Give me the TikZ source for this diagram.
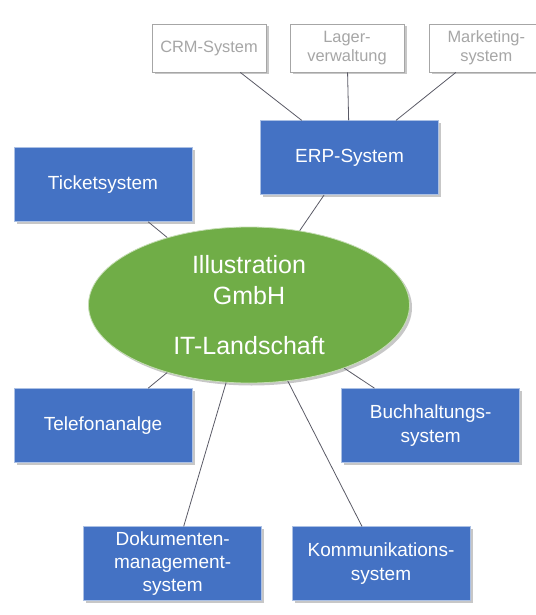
\documentclass[tikz,border=0pt]{standalone}
\usepackage{fontspec}
\setmainfont{Liberation Sans}
\usetikzlibrary{shapes.geometric,shadows}
\definecolor{boxblue}{HTML}{4472C4}
\definecolor{leafgreen}{HTML}{70AD47}
\definecolor{subgrey}{HTML}{A6A6A6}
\definecolor{linkgrey}{HTML}{5A5A66}

\begin{document}
\begin{tikzpicture}[x=1pt,y=-1pt,
  castshadow/.style={drop shadow={shadow xshift=2.5pt,shadow yshift=-2.5pt,fill=black,opacity=0.22}},
  sysbox/.style={rectangle, fill=boxblue, draw=white!55!boxblue, line width=0.6pt,
    minimum width=178pt, minimum height=74pt, inner sep=0pt, text=white,
    align=center, font=\fontsize{19}{23.3}\selectfont, castshadow},
  subbox/.style={rectangle, fill=white, draw=subgrey, line width=0.8pt,
    minimum width=114pt, minimum height=48pt, inner sep=0pt, text=subgrey,
    align=center, font=\fontsize{16.4}{19.4}\selectfont, castshadow},
  corenode/.style={ellipse, fill=leafgreen, draw=white!60!leafgreen, line width=0.8pt,
    minimum width=321pt, minimum height=156pt, inner sep=0pt, text=white,
    align=center, font=\fontsize{25}{31}\selectfont, castshadow},
  link/.style={draw=linkgrey, line width=0.8pt}]

\useasboundingbox (0,0) rectangle (535,615);

% central node
\node[corenode] (core) at (249,305) {Illustration\\GmbH\\[19pt]IT-Landschaft};

% ERP sub-systems
\node[subbox] (crm) at (209,48) {CRM-System};
\node[subbox] (lager) at (347,48) {Lager-\\verwaltung};
\node[subbox] (marketing) at (486.3,48) {Marketing-\\system};

% systems around the core
\node[sysbox] (erp) at (349.5,157.7) {ERP-System};
\node[sysbox] (ticket) at (103,184.5) {Ticketsystem};
\node[sysbox] (telefon) at (103,425.5) {Telefonanalge};
\node[sysbox] (buch) at (430.7,425.5) {Buchhaltungs-\\system};
\node[sysbox] (doku) at (172.7,563.7) {Dokumenten-\\management-\\system};
\node[sysbox] (komm) at (381,563.7) {Kommunikations-\\system};

% connectors
\draw[link] (crm) -- (erp);
\draw[link] (lager) -- (erp);
\draw[link] (marketing) -- (erp);
\draw[link] (erp) -- (core);
\draw[link] (ticket) -- (core);
\draw[link] (telefon) -- (core);
\draw[link] (buch) -- (core);
\draw[link] (doku) -- (core);
\draw[link] (komm) -- (core);
\end{tikzpicture}
\end{document}
